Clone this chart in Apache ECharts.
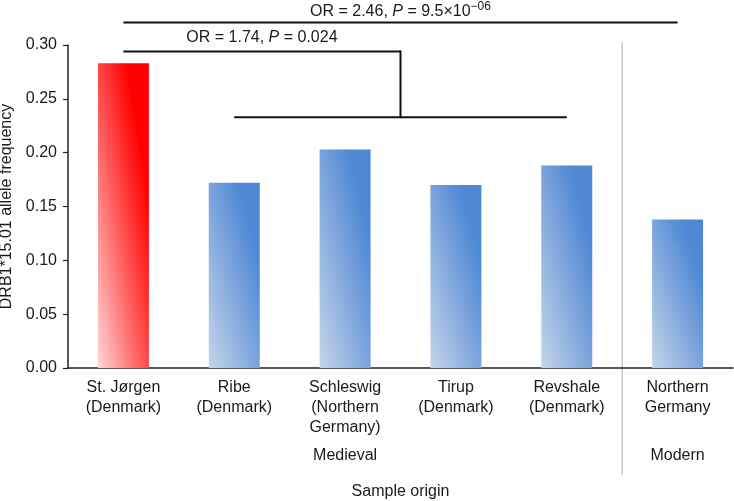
<!DOCTYPE html>
<html><head><meta charset="utf-8">
<script src="https://cdn.jsdelivr.net/npm/echarts@6/dist/echarts.min.js"></script>
<style>html,body{margin:0;padding:0;background:#fff}#c{width:734px;height:501px}</style>
</head><body><div id="c"></div>
<script>
// ---- data ----
const categories = ['St. Jørgen\n(Denmark)', 'Ribe\n(Denmark)', 'Schleswig\n(Northern\nGermany)', 'Tirup\n(Denmark)', 'Revshale\n(Denmark)', 'Northern\nGermany'];
const frequencies = [0.283, 0.172, 0.203, 0.170, 0.188, 0.138];
const highlight = [true, false, false, false, false, false];
const yMin = 0, yMax = 0.30, yInterval = 0.05;
const groupLabels = ['Medieval', 'Modern'];
const groupRanges = [[0, 4], [5, 5]];
const outerLevel = 0.321;   // OR = 2.46 bracket
const innerLevel = 0.294;   // OR = 1.74 bracket (upper)
const innerLow = 0.233;     // OR = 1.74 bracket (lower)

const FONT = '"Liberation Sans", Arial, Helvetica, sans-serif';
const TXT = '#1a1a1a';
const BAR_W = 51;

const chart = echarts.init(document.getElementById('c'), null, {renderer: 'canvas'});

function makeOption(colors) {
  return {
    animation: false,
    backgroundColor: '#fff',
    grid: {left: 68, right: 1, top: 45, bottom: 133, containLabel: false, outerBoundsMode: 'none'},
    xAxis: {
      type: 'category', data: categories,
      axisLine: {lineStyle: {color: '#222', width: 1.5}},
      axisTick: {length: 5, lineStyle: {color: '#222', width: 1.2}},
      axisLabel: {interval: 0, fontSize: 16, lineHeight: 20, margin: 10, color: TXT, fontFamily: FONT},
      name: 'Sample origin', nameLocation: 'middle', nameGap: 116,
      nameTextStyle: {fontSize: 16, color: TXT, fontFamily: FONT}
    },
    yAxis: {
      type: 'value', min: yMin, max: yMax, interval: yInterval,
      splitLine: {show: false},
      axisLine: {show: true, lineStyle: {color: '#222', width: 1.5}},
      axisTick: {show: true, length: 5, lineStyle: {color: '#222', width: 1.2}},
      axisLabel: {formatter: v => v.toFixed(2), fontSize: 16, margin: 11, color: TXT, fontFamily: FONT},
      name: 'DRB1*15.01 allele frequency', nameLocation: 'middle', nameGap: 46,
      nameTextStyle: {fontSize: 16, color: TXT, fontFamily: FONT}
    },
    series: [{
      type: 'bar', barWidth: BAR_W,
      data: frequencies.map((v, i) => ({value: v, itemStyle: colors ? {color: colors[i]} : {color: highlight[i] ? '#ff0000' : '#4f8bd5'}}))
    }]
  };
}

chart.setOption(makeOption(null));
const px = (i, v) => chart.convertToPixel({gridIndex: 0}, [i, v]);

// diagonal gradients (perpendicular to bar diagonal)
const colors = frequencies.map((v, i) => {
  const h = px(i, 0)[1] - px(i, v)[1];
  const w = BAR_W;
  const S = h * h + w * w;
  const stops = highlight[i]
    ? [{offset: 0, color: '#ffd6d6'}, {offset: 0.45, color: '#ff5656'}, {offset: 0.78, color: '#ff0000'}, {offset: 1, color: '#ff0000'}]
    : [{offset: 0, color: '#c4d5eb'}, {offset: 0.45, color: '#81a8dd'}, {offset: 0.78, color: '#5089d5'}, {offset: 1, color: '#4c88d6'}];
  return new echarts.graphic.LinearGradient(0, 1, 2 * h * h / S, 1 - 2 * w * w / S, stops);
});
chart.setOption(makeOption(colors));

const x0 = px(0, 0)[0], x5 = px(5, 0)[0];
const xMid = (px(2, 0)[0] + px(3, 0)[0]) / 2;
const yOuter = px(0, outerLevel)[1], yInner = px(0, innerLevel)[1], yLow = px(0, innerLow)[1];
const xSep = (px(4, 0)[0] + px(5, 0)[0]) / 2;
const yBase = px(0, 0)[1];
const yTop = px(0, yMax)[1];
const lineStyle = {stroke: '#111', lineWidth: 2};

const graphics = [
  {type: 'line', shape: {x1: x0, y1: yOuter, x2: x5, y2: yOuter}, style: lineStyle},
  {type: 'line', shape: {x1: x0, y1: yInner, x2: xMid, y2: yInner}, style: lineStyle},
  {type: 'line', shape: {x1: xMid, y1: yInner - 1, x2: xMid, y2: yLow + 1}, style: lineStyle},
  {type: 'line', shape: {x1: px(1, 0)[0], y1: yLow, x2: px(4, 0)[0], y2: yLow}, style: lineStyle},
  {type: 'line', shape: {x1: xSep, y1: yTop - 3, x2: xSep, y2: yBase + 107}, style: {stroke: '#aaa', lineWidth: 1}},
  {type: 'text', x: xMid, y: yOuter - 11, style: {
    text: '{n|OR = 2.46, }{i|P}{n| = 9.5×10}{s|−06}',
    align: 'center', verticalAlign: 'middle', fill: TXT,
    rich: {
      n: {fontSize: 16, fontFamily: FONT, fill: TXT, lineHeight: 22},
      i: {fontSize: 16, fontFamily: FONT, fill: TXT, fontStyle: 'italic', lineHeight: 22},
      s: {fontSize: 12, fontFamily: FONT, fill: TXT, lineHeight: 12, verticalAlign: 'top'}
    }
  }},
  {type: 'text', x: (x0 + xMid) / 2, y: yInner - 14, style: {
    text: '{n|OR = 1.74, }{i|P}{n| = 0.024}',
    align: 'center', verticalAlign: 'middle', fill: TXT,
    rich: {
      n: {fontSize: 16, fontFamily: FONT, fill: TXT},
      i: {fontSize: 16, fontFamily: FONT, fill: TXT, fontStyle: 'italic'}
    }
  }}
];
groupLabels.forEach((g, k) => {
  const [a, b] = groupRanges[k];
  const cx = (px(a, 0)[0] + px(b, 0)[0]) / 2;
  graphics.push({type: 'text', x: cx, y: yBase + 88, style: {
    text: g, align: 'center', verticalAlign: 'middle', fill: TXT, fontSize: 16, fontFamily: FONT
  }});
});
chart.setOption({graphic: graphics});
</script>
</body></html>
